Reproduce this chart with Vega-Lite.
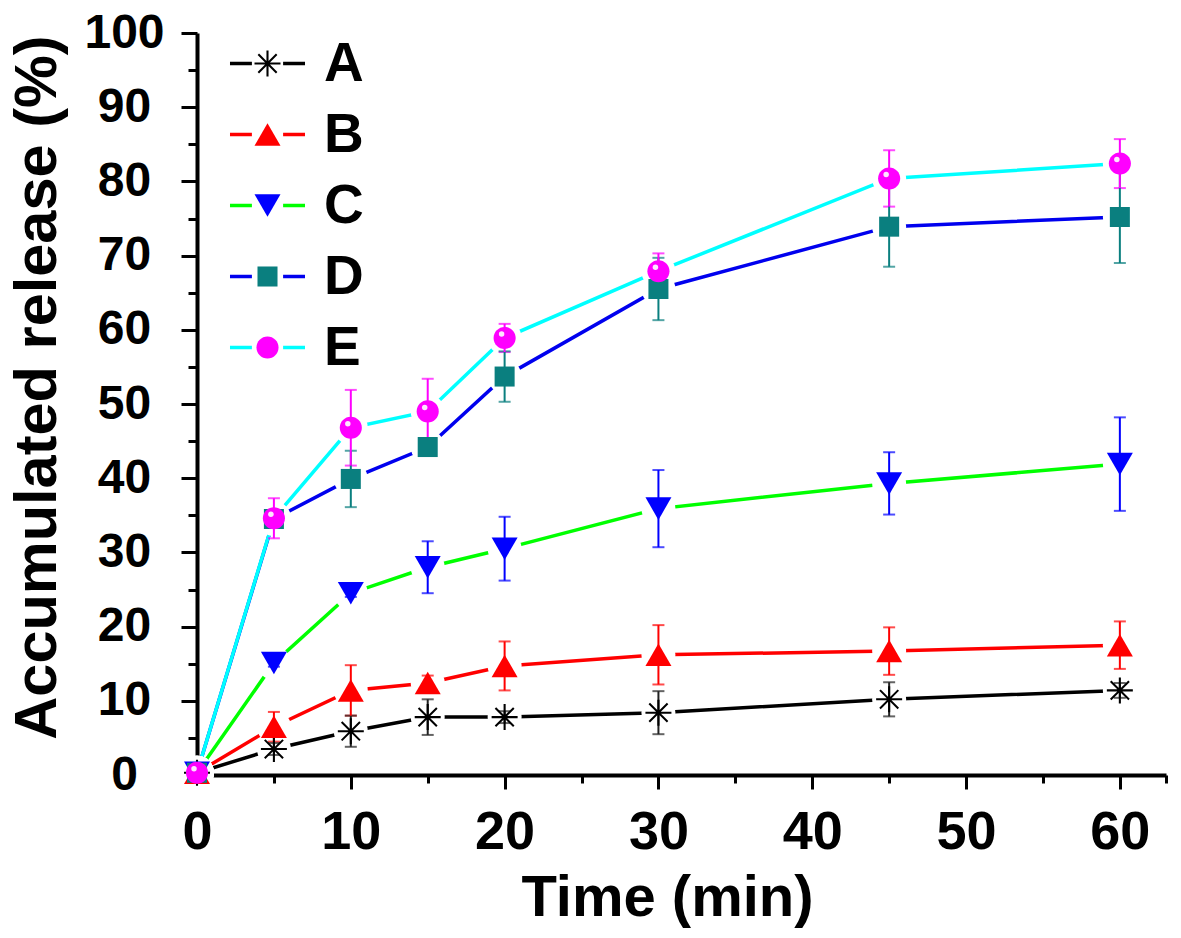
{
  "$schema": "https://vega.github.io/schema/vega-lite/v6.json",
  "description": "Accumulated release over time for formulations A-E",
  "width": 969,
  "height": 742,
  "autosize": {"type": "none"},
  "padding": {"left": 197, "top": 33, "right": 15, "bottom": 163},
  "background": "white",
  "data": {
    "values": [
      {"series": "A", "t": 0, "value": 0.3, "err": 0},
      {"series": "A", "t": 5, "value": 3.5, "err": 0.8},
      {"series": "A", "t": 10, "value": 5.9, "err": 2.1},
      {"series": "A", "t": 15, "value": 7.8, "err": 2.4},
      {"series": "A", "t": 20, "value": 7.8, "err": 0.8},
      {"series": "A", "t": 30, "value": 8.4, "err": 2.9},
      {"series": "A", "t": 45, "value": 10.2, "err": 2.3},
      {"series": "A", "t": 60, "value": 11.4, "err": 1.0},
      {"series": "B", "t": 0, "value": 0.3, "err": 0},
      {"series": "B", "t": 5, "value": 6.5, "err": 2.0},
      {"series": "B", "t": 10, "value": 11.4, "err": 3.4},
      {"series": "B", "t": 15, "value": 12.4, "err": 1.0},
      {"series": "B", "t": 20, "value": 14.7, "err": 3.3},
      {"series": "B", "t": 30, "value": 16.2, "err": 4.0},
      {"series": "B", "t": 45, "value": 16.7, "err": 3.2},
      {"series": "B", "t": 60, "value": 17.5, "err": 3.2},
      {"series": "C", "t": 0, "value": 0.3, "err": 0},
      {"series": "C", "t": 5, "value": 15.1, "err": 0.5},
      {"series": "C", "t": 10, "value": 24.5, "err": 0.5},
      {"series": "C", "t": 15, "value": 28.0, "err": 3.5},
      {"series": "C", "t": 20, "value": 30.5, "err": 4.3},
      {"series": "C", "t": 30, "value": 35.9, "err": 5.2},
      {"series": "C", "t": 45, "value": 39.3, "err": 4.2},
      {"series": "C", "t": 60, "value": 41.9, "err": 6.3},
      {"series": "D", "t": 0, "value": 0.3, "err": 0},
      {"series": "D", "t": 5, "value": 34.5, "err": 1.0},
      {"series": "D", "t": 10, "value": 39.9, "err": 3.8},
      {"series": "D", "t": 15, "value": 44.2, "err": 0.8},
      {"series": "D", "t": 20, "value": 53.7, "err": 3.4},
      {"series": "D", "t": 30, "value": 65.5, "err": 4.2},
      {"series": "D", "t": 45, "value": 73.9, "err": 5.4},
      {"series": "D", "t": 60, "value": 75.2, "err": 6.2},
      {"series": "E", "t": 0, "value": 0.3, "err": 0},
      {"series": "E", "t": 5, "value": 34.6, "err": 2.7},
      {"series": "E", "t": 10, "value": 46.8, "err": 5.1},
      {"series": "E", "t": 15, "value": 49.0, "err": 4.4},
      {"series": "E", "t": 20, "value": 58.9, "err": 1.9},
      {"series": "E", "t": 30, "value": 67.9, "err": 2.4},
      {"series": "E", "t": 45, "value": 80.4, "err": 3.8},
      {"series": "E", "t": 60, "value": 82.4, "err": 3.3}
    ]
  },
  "encoding": {
    "x": {
      "field": "t",
      "type": "quantitative",
      "scale": {"domain": [0, 63], "nice": false, "zero": false},
      "axis": {
        "title": "Time (min)",
        "values": [0, 5, 10, 15, 20, 25, 30, 35, 40, 45, 50, 55, 60, 63],
        "labelExpr": "datum.value % 10 === 0 ? datum.label : ''",
        "tickSize": {"condition": {"test": "datum.value % 10 === 0", "value": 14}, "value": 8},
        "labelBaseline": "alphabetic",
        "labelPadding": 59,
        "labelFontSize": 54,
        "titleBaseline": "alphabetic",
        "titleX": 470,
        "titleY": 140
      }
    },
    "y": {
      "field": "value",
      "type": "quantitative",
      "scale": {"domain": [0, 100], "nice": false},
      "axis": {
        "title": "Accumulated release (%)",
        "values": [0, 5, 10, 15, 20, 25, 30, 35, 40, 45, 50, 55, 60, 65, 70, 75, 80, 85, 90, 95, 100],
        "labelExpr": "datum.value % 10 === 0 ? datum.label : ''",
        "tickSize": {"condition": {"test": "datum.value % 10 === 0", "value": 16}, "value": 9},
        "labelAlign": "center",
        "labelBaseline": "middle",
        "labelPadding": 57,
        "labelFontSize": 48,
        "titleFontSize": 59.5,
        "titleBaseline": "alphabetic",
        "titleX": -142,
        "titleY": 354
      }
    }
  },
  "layer": [
    {
      "mark": {"type": "line", "strokeWidth": 3.5},
      "encoding": {
        "stroke": {
          "field": "series",
          "type": "nominal",
          "scale": {"domain": ["A", "B", "C", "D", "E"], "range": ["#000000", "#ff0000", "#00ff00", "#0000ee", "#00ffff"]},
          "legend": {
            "orient": "none",
            "legendX": 43,
            "legendY": 3,
            "title": null,
            "symbolType": "M-2.885,0L-1.2,0M1.2,0L2.885,0",
            "symbolSize": 676,
            "symbolStrokeWidth": 3.5,
            "labelExpr": "''",
            "labelFontSize": 55,
            "rowPadding": 15
          }
        }
      }
    },
    {
      "mark": {"type": "point", "shape": "circle", "filled": true, "size": 1156, "color": "white", "opacity": 1}
    },
    {
      "mark": {"type": "errorbar", "ticks": true, "size": 12, "thickness": 2},
      "encoding": {
        "yError": {"field": "err"},
        "color": {
          "field": "series",
          "type": "nominal",
          "scale": {"range": ["#222222", "#ff0000", "#0000ff", "#0a7f7f", "#ff00ff"]},
          "legend": null
        }
      }
    },
    {
      "mark": {"type": "point", "filled": true, "size": 676, "opacity": 1, "strokeWidth": 0},
      "encoding": {
        "fill": {
          "field": "series",
          "type": "nominal",
          "scale": {"range": ["#000000", "#ff0000", "#0000ff", "#0a7f7f", "#ff00ff"]},
          "legend": {
            "orient": "none",
            "legendX": 43,
            "legendY": 3,
            "title": null,
            "symbolSize": 676,
            "symbolStrokeWidth": 0,
            "labelFontSize": 55,
            "labelOffset": 29,
            "rowPadding": 15
          }
        },
        "shape": {
          "field": "series",
          "type": "nominal",
          "scale": {
            "range": [
              "M-0.08,-1L0.08,-1L0.08,1L-0.08,1Z M-1,-0.08L1,-0.08L1,0.08L-1,0.08Z M-0.65,-0.76L0.76,0.65L0.65,0.76L-0.76,-0.65Z M-0.65,0.76L-0.76,0.65L0.65,-0.76L0.76,-0.65Z",
              "triangle-up",
              "triangle-down",
              "M-0.77,-0.77L0.77,-0.77L0.77,0.77L-0.77,0.77Z",
              "M-0.85,0A0.85,0.85,0,1,0,0.85,0A0.85,0.85,0,1,0,-0.85,0Z"
            ]
          }
        }
      }
    },
    {
      "transform": [{"filter": "datum.series === 'E'"}],
      "mark": {"type": "point", "shape": "circle", "filled": true, "size": 30, "color": "#ffe6ff", "opacity": 1, "xOffset": -3, "yOffset": -4}
    }
  ],
  "config": {
    "view": {"stroke": null},
    "font": "Liberation Sans",
    "axis": {
      "grid": false,
      "zindex": 1,
      "domainColor": "black",
      "domainWidth": 4,
      "tickColor": "black",
      "tickWidth": 3,
      "labelColor": "black",
      "labelFont": "Liberation Sans",
      "labelFontWeight": "bold",
      "labelOverlap": false,
      "labelFlush": false,
      "titleColor": "black",
      "titleFont": "Liberation Sans",
      "titleFontWeight": "bold",
      "titleFontSize": 58
    },
    "legend": {
      "labelFont": "Liberation Sans",
      "labelFontWeight": "bold",
      "labelColor": "black",
      "padding": 0
    }
  }
}
